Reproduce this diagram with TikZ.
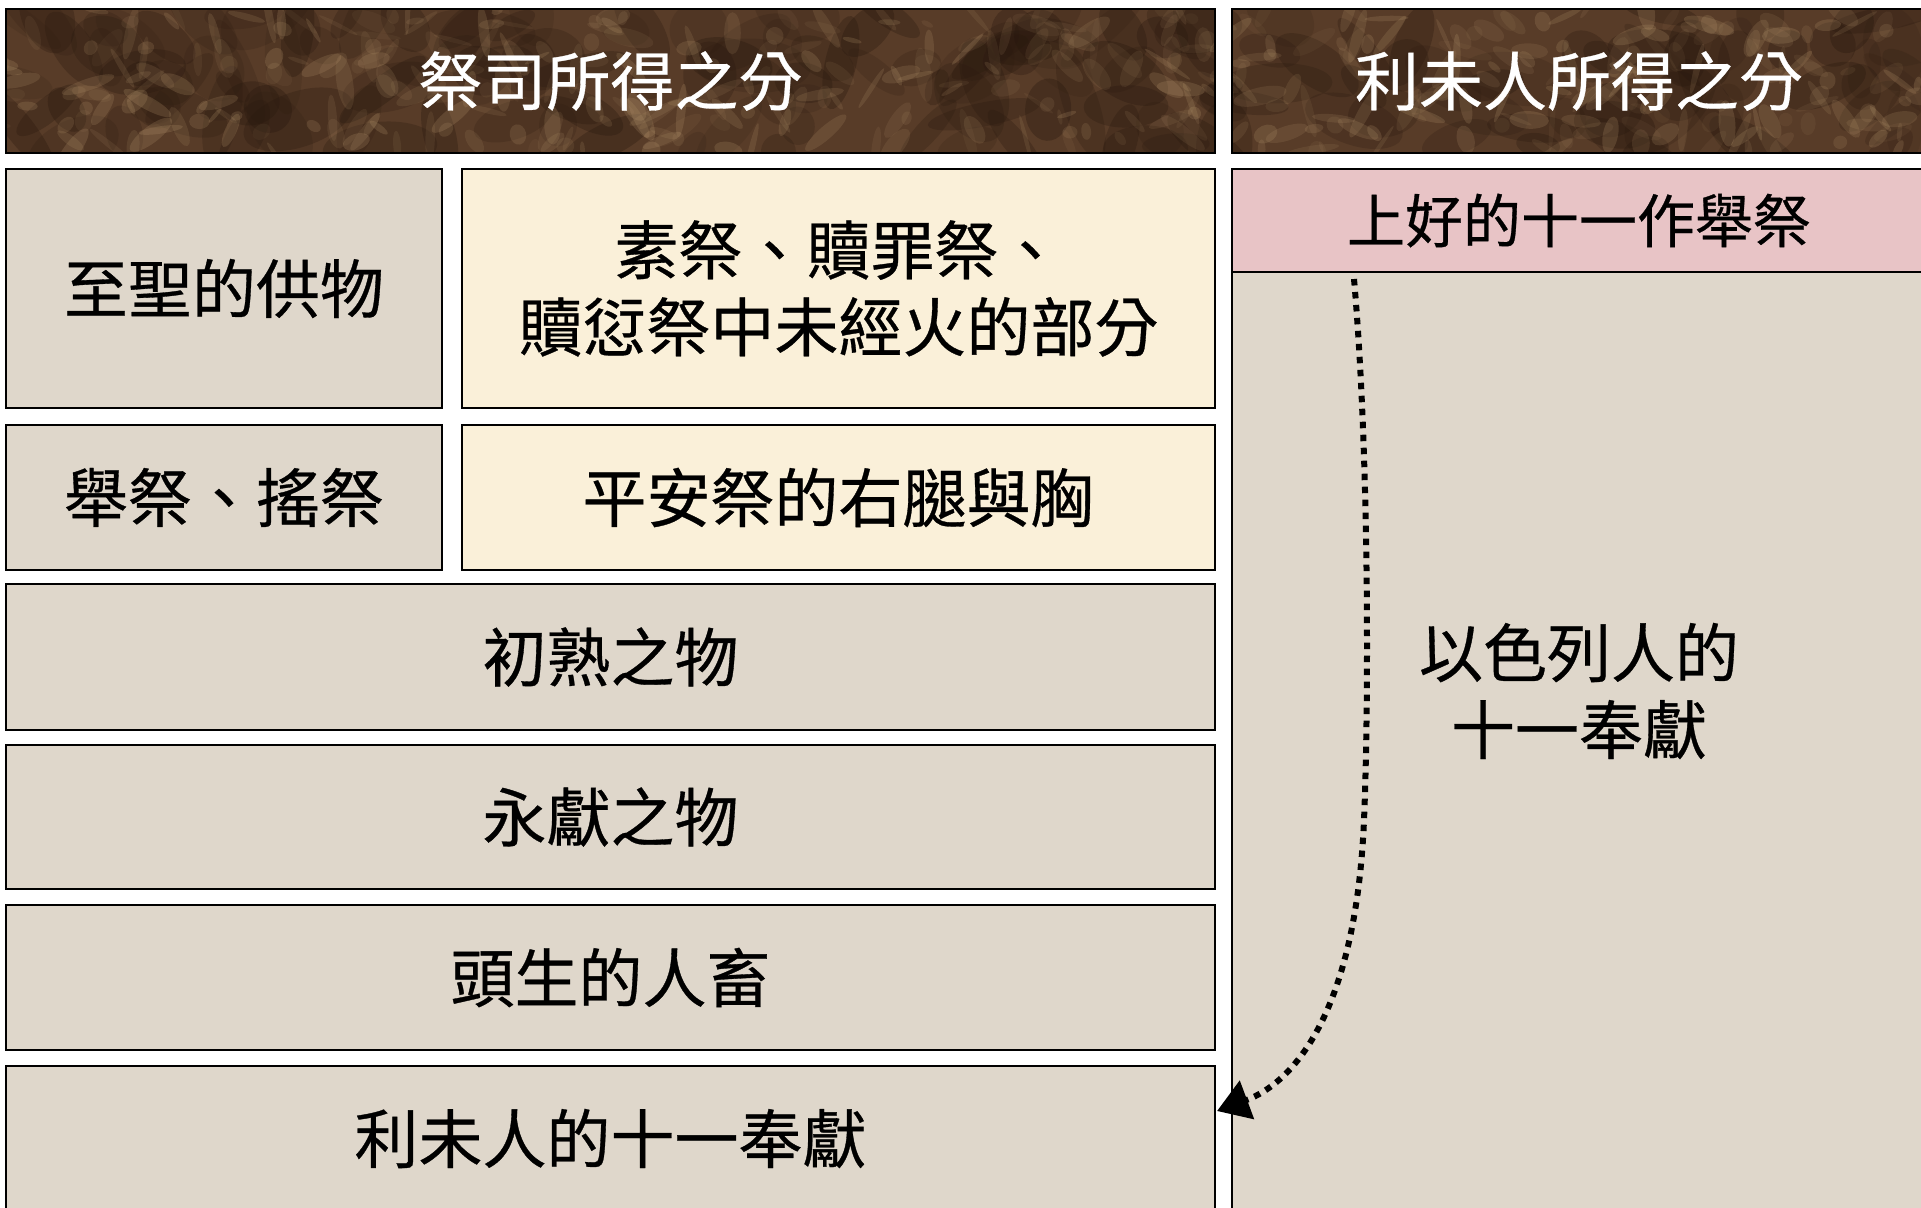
\documentclass[tikz,border=0pt]{standalone}
\usepackage{fontspec}
\newfontfamily\cjk[FakeBold=0.5]{Noto Sans CJK TC}
\usetikzlibrary{arrows.meta}
\definecolor{paper}{RGB}{223,215,203}
\definecolor{cream}{RGB}{250,240,217}
\definecolor{pinkbox}{RGB}{232,196,198}
\definecolor{marble}{RGB}{88,60,40}
\definecolor{marblelight}{RGB}{186,154,112}
\definecolor{marbledark}{RGB}{40,24,14}
\begin{document}
\begin{tikzpicture}[x=1pt,y=-1pt,
  box/.style={draw=black, line width=2.2pt, fill=paper, anchor=north west,
    inner sep=0pt, outer sep=0pt, font=\cjk\fontsize{64}{77}\selectfont, align=center, text=black},
  creambox/.style={box, fill=cream},
  pinkstyle/.style={box, fill=pinkbox, font=\cjk\fontsize{58}{70}\selectfont},
  hdr/.style={draw=black, line width=2.2pt, anchor=north west, inner sep=0pt, outer sep=0pt,
    font=\cjk\fontsize{64}{77}\selectfont, text=white},
  lbl/.style={font=\cjk\fontsize{64}{77}\selectfont, align=center, text=black, inner sep=0pt},
  dotline/.style={line width=6pt, dash pattern=on 6.5pt off 6.5pt, draw=black}
  ]
\useasboundingbox (0,0) rectangle (1921,1207);
\clip (0,0) rectangle (1921,1207);
\fill[white] (0,0) rectangle (1921,1207);

% marble headers
\fill[marble] (6,9) rectangle (1215,153);
\fill[marble] (1232,9) rectangle (1926,153);
\begin{scope}
  \clip (6,9) rectangle (1215,153) (1232,9) rectangle (1926,153);
  \pgfmathsetseed{42}
  \foreach \i in {1,...,180}{
    \pgfmathsetmacro\bx{rnd*1921}
    \pgfmathsetmacro\by{9+rnd*144}
    \pgfmathsetmacro\ba{18+rnd*40}
    \pgfmathsetmacro\bb{10+rnd*20}
    \pgfmathsetmacro\br{rnd*180}
    \pgfmathsetmacro\bo{0.12+rnd*0.22}
    \fill[marbledark, opacity=\bo, rotate around={\br:(\bx,\by)}] (\bx,\by) ellipse ({\ba pt} and {\bb pt});
  }
  \foreach \i in {1,...,420}{
    \pgfmathsetmacro\bx{rnd*1921}
    \pgfmathsetmacro\by{9+rnd*144}
    \pgfmathsetmacro\ba{6+rnd*22}
    \pgfmathsetmacro\bb{2+rnd*7}
    \pgfmathsetmacro\br{rnd*180}
    \pgfmathsetmacro\bo{0.06+rnd*0.16}
    \fill[marblelight, opacity=\bo, rotate around={\br:(\bx,\by)}] (\bx,\by) ellipse ({\ba pt} and {\bb pt});
  }
\end{scope}
\node[hdr, minimum width=1209pt, minimum height=144pt] (hl) at (6,9) {祭司所得之分};
\node[hdr, minimum width=694pt, minimum height=144pt] (hr) at (1232,9) {利未人所得之分};

% left column
\node[box, minimum width=436pt, minimum height=239pt] (zs) at (6,169) {至聖的供物};
\node[creambox, minimum width=753pt, minimum height=239pt] (sj) at (462,169) {素祭、贖罪祭、\\贖愆祭中未經火的部分};
\node[box, minimum width=436pt, minimum height=145pt] (jj) at (6,425) {舉祭、搖祭};
\node[creambox, minimum width=753pt, minimum height=145pt] (pa) at (462,425) {平安祭的右腿與胸};
\node[box, minimum width=1209pt, minimum height=146pt] (cs) at (6,584) {初熟之物};
\node[box, minimum width=1209pt, minimum height=144pt] (yx) at (6,745) {永獻之物};
\node[box, minimum width=1209pt, minimum height=145pt] (ts) at (6,905) {頭生的人畜};
\node[box, minimum width=1209pt, minimum height=145pt] (lw) at (6,1066) {利未人的十一奉獻};

% right column
\node[pinkstyle, minimum width=694pt, minimum height=103pt] (sh) at (1232,169) {上好的十一作舉祭};
\node[box, minimum width=694pt, minimum height=939pt] (isr) at (1232,272) {};
\node[lbl] (isrtxt) at (1579,691) {以色列人的\\十一奉獻};

% dotted arrow
\coordinate (astart) at (1354,279);
\coordinate (aend) at (1217,1111);
\draw[dotline, -{Triangle[length=32pt,width=40pt]}] (astart)
  .. controls (1369,450) and (1369,700) .. (1364,820)
  .. controls (1356,1010) and (1295,1082) .. (aend);
\end{tikzpicture}
\end{document}
